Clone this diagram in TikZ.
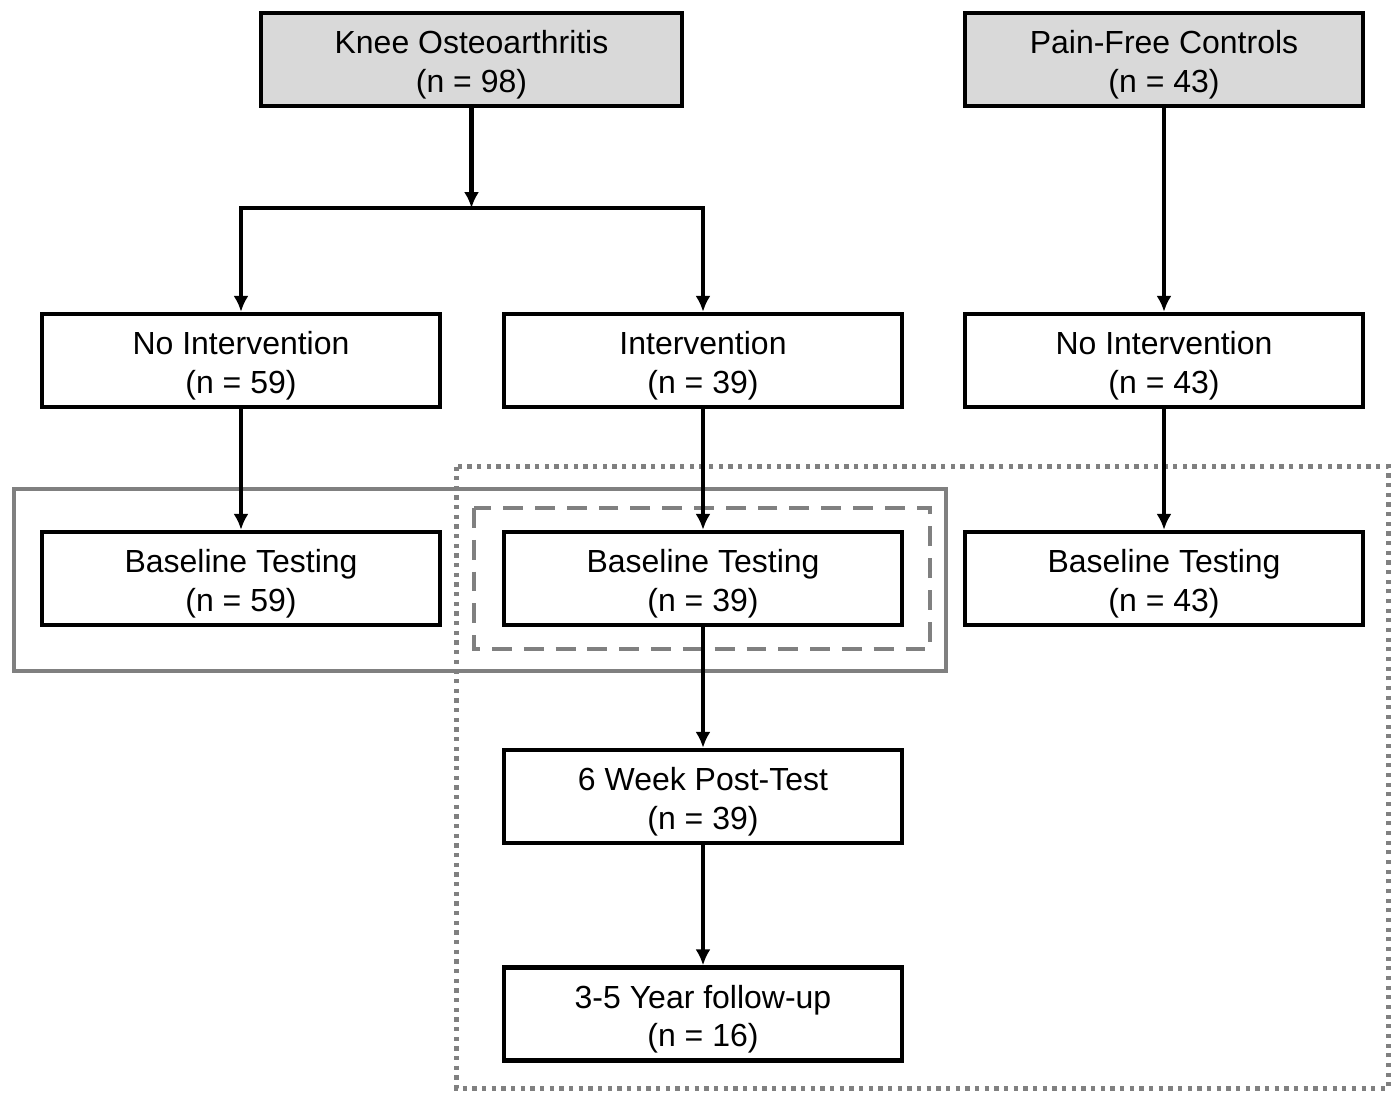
\documentclass[tikz,border=0pt]{standalone}
\usepackage{fontspec}
\setmainfont{Liberation Sans}
\usetikzlibrary{arrows.meta,positioning}
\newcommand{\topstrut}{\rule{0pt}{19pt}}
\begin{document}
\begin{tikzpicture}[>={Latex[length=9pt,width=8.5pt]},line width=2.5pt]
\tikzset{
  stage/.style={draw,shape=rectangle,minimum width=7.96cm,minimum height=1.86cm,align=center,font=\fontsize{18.2}{22}\selectfont,inner sep=0pt},
  cohort/.style={stage,fill=black!15,minimum width=8.42cm},
  grouprect/.style={draw=black!50,line width=2.4pt}
}
\useasboundingbox (0,0) rectangle (27.86,-21.86);
% cohorts
\node[cohort] (knee) at (9.43,-1.19) {\topstrut Knee Osteoarthritis\\(n = 98)};
\node[cohort,minimum width=7.96cm] (painfree) at (23.28,-1.19) {\topstrut Pain-Free Controls\\(n = 43)};
% arms
\node[stage] (noint) at (4.82,-7.21) {\topstrut No Intervention\\(n = 59)};
\node[stage] (int) at (14.06,-7.21) {\topstrut Intervention\\(n = 39)};
\node[stage] (ctrl) at (23.28,-7.21) {\topstrut No Intervention\\(n = 43)};
% testing
\node[stage] (basenoint) at (4.82,-11.57) {\topstrut Baseline Testing\\(n = 59)};
\node[stage] (baseint) at (14.06,-11.57) {\topstrut Baseline Testing\\(n = 39)};
\node[stage] (basectrl) at (23.28,-11.57) {\topstrut Baseline Testing\\(n = 43)};
\node[stage] (post) at (14.06,-15.93) {\topstrut 6 Week Post-Test\\(n = 39)};
\node[stage] (follow) at (14.06,-20.28) {\topstrut 3-5 Year follow-up\\(n = 16)};
% group outlines
\draw[grouprect] (0.28,-9.78) rectangle (18.92,-13.42);
\draw[grouprect,dash pattern=on 11.3pt off 6.8pt] (9.48,-10.16) rectangle (18.6,-12.98);
\draw[grouprect,line width=2.4pt,dash pattern=on 2.4pt off 3.1pt] (9.13,-9.33) rectangle (27.77,-21.77);
% arrows
\coordinate (split) at (9.43,-4.16);
\draw[->] (knee) -- (split);
\draw[->] (split) -| (noint);
\draw[->] (split) -| (int);
\draw[->] (painfree) -- (ctrl);
\draw[->] (noint) -- (basenoint);
\draw[->] (int) -- (baseint);
\draw[->] (ctrl) -- (basectrl);
\draw[->] (baseint) -- (post);
\draw[->] (post) -- (follow);
\end{tikzpicture}
\end{document}
